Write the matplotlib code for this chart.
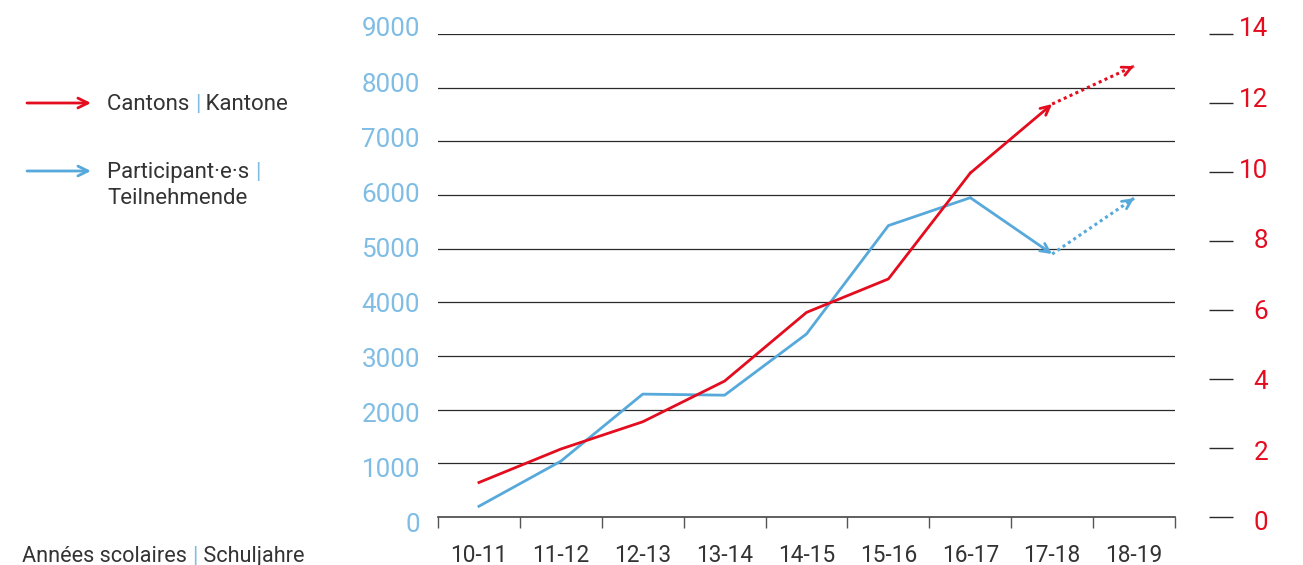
import matplotlib
matplotlib.use("Agg")
import matplotlib.pyplot as plt
import numpy as np

plt.rcParams['font.family'] = ['Roboto', 'DejaVu Sans']
plt.rcParams['font.weight'] = 'normal'

years = ["10-11", "11-12", "12-13", "13-14", "14-15", "15-16", "16-17", "17-18", "18-19"]
participants = [200, 1040, 2290, 2270, 3410, 5430, 5950, 4900, 5940]
cantons = [1.0, 1.97, 2.76, 3.94, 5.93, 6.9, 9.97, 11.97, 13.07]
left_ticks = [0, 1000, 2000, 3000, 4000, 5000, 6000, 7000, 8000, 9000]
right_ticks = [0, 2, 4, 6, 8, 10, 12, 14]

RED = "#e30d1f"
BLUE = "#56a9da"
LBLUE = "#7fbde4"
GRID = "#2a2a2a"
TXT = "#333333"

W, H = 1303, 565
fig = plt.figure(figsize=(W / 100, H / 100), dpi=100)

def rect(x0, y0, x1, y1):
    return [x0 / W, 1 - y1 / H, (x1 - x0) / W, (y1 - y0) / H]

ax = fig.add_axes(rect(438, 34, 1175, 517))
ax2 = ax.twinx()

x = np.arange(len(years)) + 0.5
ax.set_xlim(0, len(years))
ax.set_ylim(0, 9000)
ax2.set_ylim(0, 14)

for v in left_ticks[1:]:
    ax.axhline(v, color=GRID, lw=0.9, zorder=1)

for a in (ax, ax2):
    for s in a.spines.values():
        s.set_visible(False)
ax.spines['bottom'].set_visible(True)
ax.spines['bottom'].set_color("#444444")
ax.spines['bottom'].set_linewidth(1.2)

ax.set_xticks(np.arange(len(years) + 1))
ax.set_xticks(x, minor=True)
ax.set_xticklabels([])
ax.set_xticklabels(years, minor=True)
ax.tick_params(axis='x', which='major', length=8, width=1.0, color="#555555", direction='out')
ax.tick_params(axis='x', which='minor', length=0, pad=19.5, labelsize=16.3, labelcolor=TXT)

ax.set_yticks(left_ticks)
ax.tick_params(axis='y', length=0, labelleft=False)

ax2.spines['right'].set_position(('outward', 24.5))
ax2.set_yticks(right_ticks)
ax2.tick_params(axis='y', length=17, width=1.0, color=GRID, labelright=False)

# tick-label axes (labels in the reference sit on a slightly wider spacing than the grid)
axl = fig.add_axes(rect(438, 27, 1175, 523))
axl.set_ylim(0, 9000)
axl.set_yticks(left_ticks)
axl.set_yticklabels([str(v) for v in left_ticks])
axl.tick_params(axis='y', length=0, pad=13, labelsize=18.7, labelcolor=LBLUE)
axl.set_xticks([])
axl.patch.set_visible(False)
for s in axl.spines.values():
    s.set_visible(False)

axr = fig.add_axes(rect(438, 27, 1175, 521))
axr.set_ylim(0, 14)
axr.yaxis.tick_right()
axr.set_yticks(right_ticks)
axr.set_yticklabels([str(v) for v in right_ticks])
axr.tick_params(axis='y', length=0, pad=67, labelsize=18.7, labelcolor=RED)
for lab in axr.get_yticklabels():
    lab.set_horizontalalignment('right')
axr.set_xticks([])
axr.patch.set_visible(False)
for s in axr.spines.values():
    s.set_visible(False)

HEAD = '->,head_length=0.65,head_width=0.32'

def draw_series(a, vals, col, z):
    a.plot(x[:7], vals[:7], color=col, lw=2.0, zorder=z)
    a.annotate('', xy=(x[7], vals[7]), xytext=(x[6], vals[6]),
               arrowprops=dict(arrowstyle=HEAD, color=col, lw=2.0, shrinkA=0, shrinkB=0),
               zorder=z)
    a.plot(x[7:9], vals[7:9], color=col, lw=2.2, ls=(0, (1, 1.1)), zorder=z)
    a.annotate('', xy=(x[8], vals[8]),
               xytext=(x[8] - 0.02 * (x[8] - x[7]), vals[8] - 0.02 * (vals[8] - vals[7])),
               arrowprops=dict(arrowstyle=HEAD, color=col, lw=2.0, shrinkA=0, shrinkB=0),
               zorder=z)

draw_series(ax, participants, BLUE, 3)
draw_series(ax2, cantons, RED, 4)

def fx(px):
    return px / W
def fy(py):
    return 1 - py / H

for (yy, col) in [(103, RED), (171, BLUE)]:
    fig.add_artist(matplotlib.patches.FancyArrowPatch(
        (fx(27), fy(yy)), (fx(91), fy(yy)), transform=fig.transFigure,
        arrowstyle=HEAD, mutation_scale=11, color=col, lw=2.0,
        shrinkA=0, shrinkB=0))

def chain(xp, yp, parts, size=16.0):
    first = fig.text(fx(xp), fy(yp), parts[0][0], color=parts[0][1], fontsize=size,
                     va='baseline', ha='left')
    prev = first
    for s, c in parts[1:]:
        prev = fig.add_artist(matplotlib.text.Annotation(
            s, xy=(1, 0), xycoords=prev, xytext=(0, 0), textcoords='offset points',
            color=c, fontsize=size, va='bottom', ha='left', annotation_clip=False))
    return first

chain(107, 110, [("Cantons ", TXT), ("|", LBLUE), (" Kantone", TXT)])
chain(107, 178, [("Participant·e·s ", TXT), ("|", LBLUE)])
fig.text(fx(107), fy(204), "Teilnehmende", color=TXT, fontsize=16.0, va='baseline', ha='left')
chain(22, 562, [("Années scolaires ", TXT), ("|", LBLUE), (" Schuljahre", TXT)], size=15.6)

fig.savefig("out.png", dpi=100)
